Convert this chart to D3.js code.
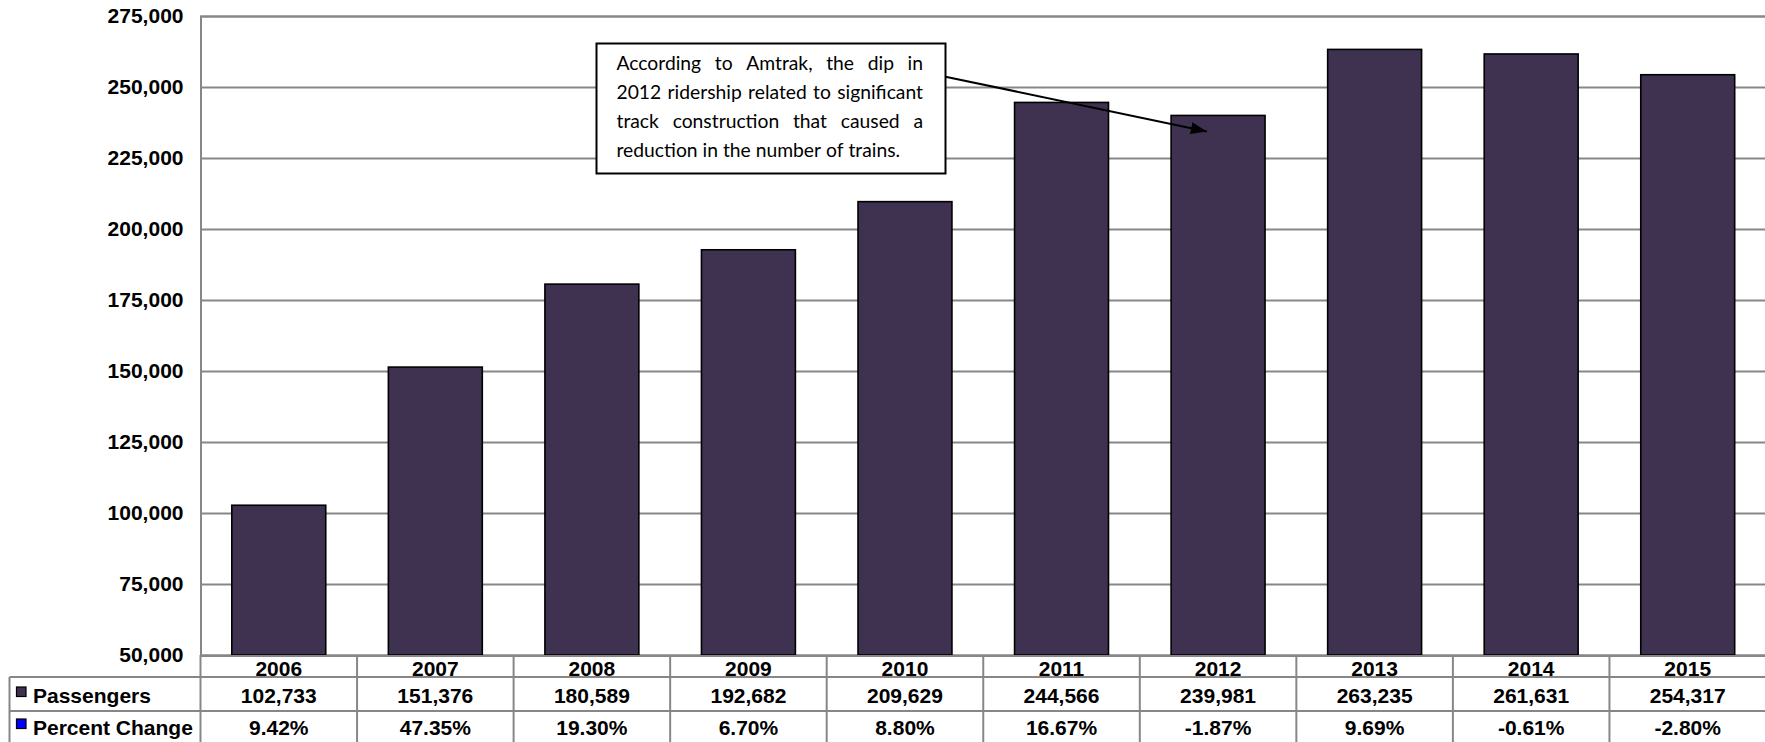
<!DOCTYPE html>
<html>
<head>
<meta charset="utf-8">
<script src="https://cdn.jsdelivr.net/npm/d3@7"></script>
<style>
  html, body { margin: 0; padding: 0; background: #ffffff; }
  svg { display: block; }
  .bold { font-family: "Liberation Sans", Arial, sans-serif; font-weight: bold; font-size: 21px; fill: #000; }
  .note { font-family: Lato, "Open Sans", sans-serif; font-size: 19.3px; fill: #000; }
</style>
</head>
<body>
<svg id="chart" width="1765" height="742"></svg>
<script>
// Amtrak passenger counts by year, with year-over-year percent change
const years = ["2006", "2007", "2008", "2009", "2010", "2011", "2012", "2013", "2014", "2015"];
const passengers = [102733, 151376, 180589, 192682, 209629, 244566, 239981, 263235, 261631, 254317];
const percentChange = [9.42, 47.35, 19.30, 6.70, 8.80, 16.67, -1.87, 9.69, -0.61, -2.80];
const yTicks = [50000, 75000, 100000, 125000, 150000, 175000, 200000, 225000, 250000, 275000];
const rowLabels = ["Passengers", "Percent Change"];
const noteLines = [
  "According to Amtrak, the dip in",
  "2012 ridership related to significant",
  "track construction that caused a",
  "reduction in the number of trains."
];
const noteYear = "2012";

const barColor = "#3f3150";
const pctColor = "#0000ff";
const gridColor = "#878787";

const svg = d3.select("#chart");

const plot = { left: 200.5, right: 1766, top: 16, bottom: 655 };
const table = { left: 9.5, yearRowBottom: 677, passRowBottom: 711, bottom: 746 };

const x = d3.scaleBand()
  .domain(years)
  .range([plot.left, plot.right])
  .paddingInner(0.4)
  .paddingOuter(0.2);

const y = d3.scaleLinear()
  .domain([50000, 275000])
  .range([plot.bottom, plot.top]);

// Value axis with full-width gridlines
const yAxis = d3.axisLeft(y)
  .tickValues(yTicks)
  .tickFormat(d3.format(","))
  .tickSize(-(plot.right - plot.left))
  .tickPadding(17);

const gy = svg.append("g")
  .attr("transform", `translate(${plot.left},0)`)
  .call(yAxis);
gy.select(".domain").attr("stroke", gridColor).attr("stroke-width", 2);
gy.selectAll(".tick line").attr("stroke", gridColor).attr("stroke-width", 2);
gy.selectAll(".tick text")
  .attr("fill", "#000")
  .style("font-family", "'Liberation Sans', Arial, sans-serif")
  .style("font-weight", "bold")
  .style("font-size", "21px");

// Bars
svg.append("g")
  .selectAll("rect")
  .data(years)
  .join("rect")
  .attr("x", (d) => x(d))
  .attr("width", x.bandwidth())
  .attr("y", (d, i) => y(passengers[i]))
  .attr("height", (d, i) => y(50000) - y(passengers[i]))
  .attr("fill", barColor)
  .attr("stroke", "#000")
  .attr("stroke-width", 1.6);

// Data table beneath the chart
const step = x.step();
const colEdges = d3.range(years.length + 1).map((i) => plot.left + i * step);
const tg = svg.append("g").attr("stroke", gridColor).attr("stroke-width", 2);

// horizontal rules
tg.append("line").attr("x1", plot.left).attr("x2", plot.right)
  .attr("y1", plot.bottom + 1).attr("y2", plot.bottom + 1);
[table.yearRowBottom, table.passRowBottom, table.bottom].forEach((yy) => {
  tg.append("line").attr("x1", table.left).attr("x2", plot.right)
    .attr("y1", yy).attr("y2", yy);
});
// vertical rules
colEdges.forEach((xx) => {
  tg.append("line").attr("x1", xx).attr("x2", xx)
    .attr("y1", plot.bottom).attr("y2", table.bottom);
});
tg.append("line").attr("x1", table.left).attr("x2", table.left)
  .attr("y1", table.yearRowBottom).attr("y2", table.bottom);

const cx = (d) => x(d) + x.bandwidth() / 2;

svg.append("g").selectAll("text").data(years).join("text")
  .attr("class", "bold")
  .attr("x", cx)
  .attr("y", 675.5)
  .attr("text-anchor", "middle")
  .text((d) => d);

svg.append("g").selectAll("text").data(years).join("text")
  .attr("class", "bold")
  .attr("x", cx)
  .attr("y", 702.5)
  .attr("text-anchor", "middle")
  .text((d, i) => d3.format(",")(passengers[i]));

svg.append("g").selectAll("text").data(years).join("text")
  .attr("class", "bold")
  .attr("x", cx)
  .attr("y", 734.5)
  .attr("text-anchor", "middle")
  .text((d, i) => percentChange[i].toFixed(2) + "%");

// Row labels with legend keys
const rowY = [702.5, 734.5];
const keyColors = [barColor, pctColor];
rowLabels.forEach((lab, i) => {
  svg.append("rect")
    .attr("x", 16.5).attr("y", rowY[i] - 15.5)
    .attr("width", 9.5).attr("height", 9.5)
    .attr("fill", keyColors[i])
    .attr("stroke", "#000").attr("stroke-width", 1.2);
  svg.append("text")
    .attr("class", "bold")
    .attr("x", 33)
    .attr("y", rowY[i])
    .text(lab);
});

// Callout note about the 2012 dip
const box = { x: 596.5, y: 43.5, w: 349, h: 130 };
svg.append("rect")
  .attr("x", box.x).attr("y", box.y)
  .attr("width", box.w).attr("height", box.h)
  .attr("fill", "#fff")
  .attr("stroke", "#000")
  .attr("stroke-width", 2);

// Justified paragraph: spread words across the line, last line left-aligned
const textLeft = box.x + 20;
const textWidth = 306.5;
const noteBase = [69.5, 99, 127.5, 156.5];
const noteG = svg.append("g");
noteLines.forEach((line, i) => {
  const words = line.split(" ");
  const nodes = words.map((w) => noteG.append("text").attr("class", "note").attr("y", noteBase[i]).text(w));
  const widths = nodes.map((n) => n.node().getComputedTextLength());
  const spaceW = (() => {
    const s = noteG.append("text").attr("class", "note").text("a a");
    const a = noteG.append("text").attr("class", "note").text("aa");
    const wsp = s.node().getComputedTextLength() - a.node().getComputedTextLength();
    s.remove(); a.remove();
    return wsp;
  })();
  const total = d3.sum(widths);
  const last = i === noteLines.length - 1;
  const gap = last ? spaceW : (textWidth - total) / (words.length - 1);
  let cur = textLeft;
  nodes.forEach((n, k) => {
    n.attr("x", cur);
    cur += widths[k] + gap;
  });
});

// Arrow from the note to the 2012 bar
const defs = svg.append("defs");
defs.append("marker")
  .attr("id", "arrowhead")
  .attr("viewBox", "0 0 16 12")
  .attr("refX", 16).attr("refY", 6)
  .attr("markerWidth", 16).attr("markerHeight", 12)
  .attr("markerUnits", "userSpaceOnUse")
  .attr("orient", "auto")
  .append("path")
  .attr("d", "M0,0 L16,6 L0,12 Z")
  .attr("fill", "#000");

const idx = years.indexOf(noteYear);
const tipX = x(noteYear) + x.bandwidth() * 0.38;
const tipY = y(passengers[idx]) + 16;
svg.append("line")
  .attr("x1", box.x + box.w)
  .attr("y1", 76.7)
  .attr("x2", tipX)
  .attr("y2", tipY)
  .attr("stroke", "#000")
  .attr("stroke-width", 2)
  .attr("marker-end", "url(#arrowhead)");
</script>
</body>
</html>
